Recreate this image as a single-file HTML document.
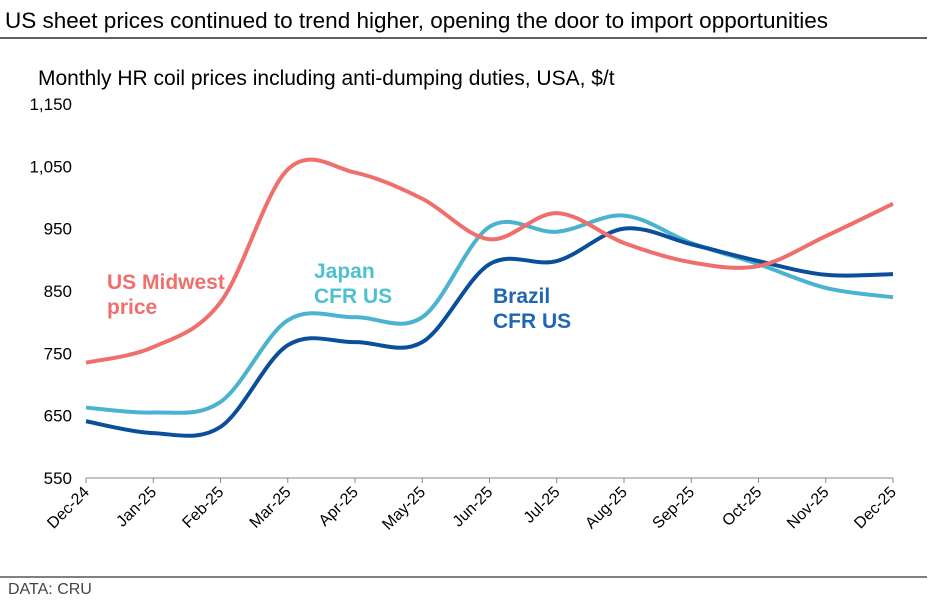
<!DOCTYPE html>
<html><head><meta charset="utf-8"><style>
body{margin:0;background:#fff;font-family:"Liberation Sans",Arial,sans-serif;}
svg{display:block}
</style></head><body>
<svg id="c" width="934" height="603" viewBox="0 0 934 603">
<text x="5" y="28" font-size="22.5" fill="#000">US sheet prices continued to trend higher, opening the door to import opportunities</text>
<line x1="0" y1="38" x2="927" y2="38" stroke="#000" stroke-width="1.2"/>
<text x="38" y="85" font-size="21" fill="#000">Monthly HR coil prices including anti-dumping duties, USA, $/t</text>
<g id="yaxis"></g>
<g id="xaxis"></g>
<g id="series"></g>
<text x="107" y="289" font-size="21" font-weight="bold" fill="#EF6F6C"><tspan x="107">US Midwest</tspan><tspan x="107" dy="25">price</tspan></text>
<text x="314" y="278" font-size="21" font-weight="bold" fill="#4FC0D0"><tspan x="314">Japan</tspan><tspan x="314" dy="25">CFR US</tspan></text>
<text x="493" y="303" font-size="21" font-weight="bold" fill="#1F66B5"><tspan x="493">Brazil</tspan><tspan x="493" dy="25">CFR US</tspan></text>
<line x1="0" y1="577" x2="927" y2="577" stroke="#000" stroke-width="1"/>
<text x="8" y="594" font-size="16" fill="#444">DATA: CRU</text>
</svg>
<script>
const categories=["Dec-24","Jan-25","Feb-25","Mar-25","Apr-25","May-25","Jun-25","Jul-25","Aug-25","Sep-25","Oct-25","Nov-25","Dec-25"];
const yTicks=[550,650,750,850,950,1050,1150];
const usMidwest=[735,760,832,1045,1040,998,933,975,927,896,890,938,990];
const japan=[663,655,672,803,808,808,953,945,971,927,893,855,840];
const brazil=[641,622,632,763,768,768,893,898,950,925,898,876,877];
const NS="http://www.w3.org/2000/svg";
const x0=86,x1=893,yTop=104,yBot=478,vMin=550,vMax=1150;
const xs=i=>x0+(x1-x0)*i/(categories.length-1);
const ys=v=>yBot-(v-vMin)/(vMax-vMin)*(yBot-yTop);
function mk(t,a,p){const e=document.createElementNS(NS,t);for(const k in a)e.setAttribute(k,a[k]);p.appendChild(e);return e;}
const ya=document.getElementById('yaxis'),xa=document.getElementById('xaxis'),sg=document.getElementById('series');
yTicks.forEach(v=>{const t=mk('text',{x:72,y:ys(v)+6,'font-size':17,'text-anchor':'end',fill:'#000'},ya);t.textContent=v.toLocaleString('en-US');

});
const ax=mk('line',{x1:x0,y1:yBot,x2:x1,y2:yBot,stroke:'#888','stroke-width':1},xa);


categories.forEach((c,i)=>{const x=xs(i);
const tk=mk('line',{x1:x,y1:yBot,x2:x,y2:yBot+5,stroke:'#888'},xa);


const t=mk('text',{x:x+4,y:yBot+15,'font-size':16,'text-anchor':'end',fill:'#000',transform:`rotate(-45 ${x+4} ${yBot+15})`},xa);t.textContent=c;

});
function path(vals){const p=vals.map((v,i)=>[xs(i),ys(v)]);let d=`M${p[0][0]},${p[0][1]}`;
for(let i=0;i<p.length-1;i++){const a=p[Math.max(0,i-1)],b=p[i],c=p[i+1],e=p[Math.min(p.length-1,i+2)];
const c1=[b[0]+(c[0]-a[0])/6,b[1]+(c[1]-a[1])/6],c2=[c[0]-(e[0]-b[0])/6,c[1]-(e[1]-b[1])/6];
d+=` C${c1[0]},${c1[1]} ${c2[0]},${c2[1]} ${c[0]},${c[1]}`;}return d;}
[[japan,'#4BB3CF','line-japan'],[brazil,'#0B4F9C','line-brazil'],[usMidwest,'#EF6F6C','line-us-midwest']].forEach(([v,col,n])=>{
const l=mk('path',{d:path(v),fill:'none',stroke:col,'stroke-width':4,'stroke-linejoin':'round'},sg);

});
</script>
</body></html>
